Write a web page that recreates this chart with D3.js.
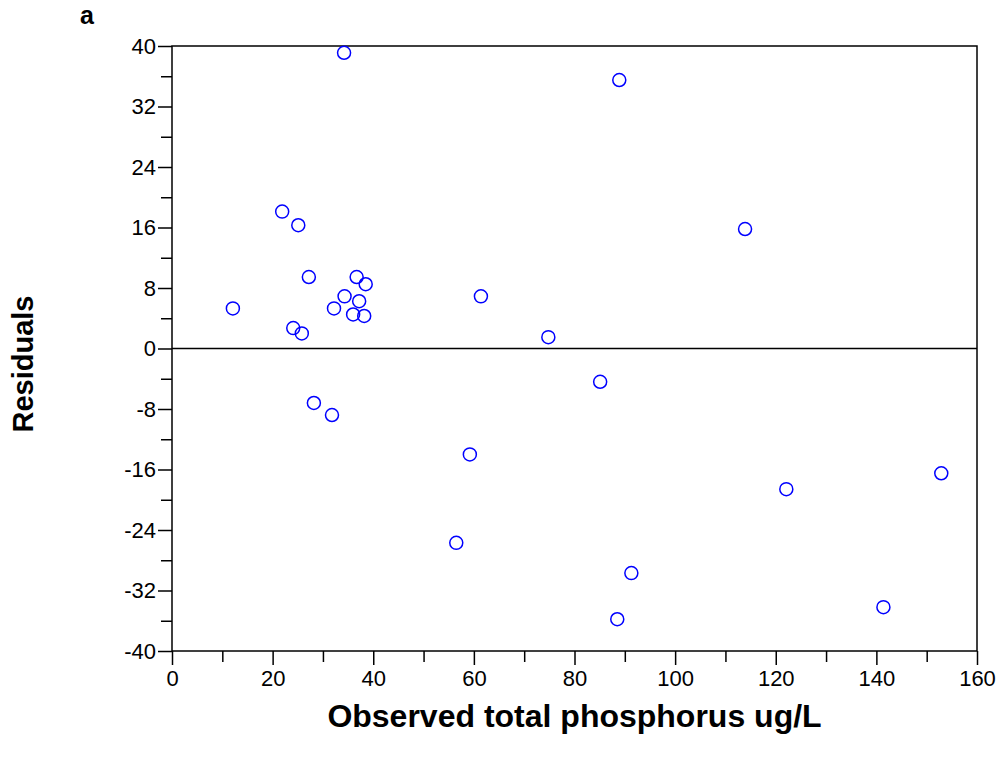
<!DOCTYPE html>
<html>
<head>
  <meta charset="utf-8">
  <script src="https://d3js.org/d3.v7.min.js"></script>
  <style>
    body { margin: 0; background: #fff; }
    svg text { font-family: "Liberation Sans", Arial, sans-serif; fill: #000; }
  </style>
</head>
<body>
<script>
  // observed total phosphorus (ug/L) and residuals
  var observed = [34.2, 88.9, 21.9, 25.1, 113.9, 27.2, 36.7, 38.5, 34.3, 61.4,
                  37.2, 12.1, 32.2, 36.0, 38.2, 24.1, 25.8, 74.8, 85.1, 28.2,
                  31.8, 59.2, 152.9, 122.1, 56.5, 91.3, 141.4, 88.5];
  var residuals = [39.1, 35.5, 18.1, 16.3, 15.8, 9.45, 9.45, 8.5, 6.9, 6.9,
                   6.25, 5.3, 5.3, 4.5, 4.3, 2.7, 2.0, 1.5, -4.4, -7.2,
                   -8.8, -14.0, -16.5, -18.6, -25.7, -29.7, -34.2, -35.8];
  var xTicks = [0, 20, 40, 60, 80, 100, 120, 140, 160];
  var yTicks = [-40, -32, -24, -16, -8, 0, 8, 16, 24, 32, 40];

  var width = 1005, height = 761;
  var plotLeft = 172, plotRight = 977, plotTop = 46, plotBottom = 651;

  var svg = d3.select("body").append("svg")
      .attr("width", width)
      .attr("height", height);

  var x = d3.scaleLinear().domain([0, 160]).range([plotLeft, plotRight]);
  var y = d3.scaleLinear().domain([-40, 40]).range([plotBottom, plotTop]);

  // minor ticks halfway between the labelled ones
  var xMinor = d3.range(10, 160, 20);
  var yMinor = d3.range(-36, 40, 8);

  // plain hyphen for negatives, like the original
  var fmt = function(d) { return String(d); };

  svg.append("g")
      .attr("transform", "translate(0," + plotBottom + ")")
      .call(d3.axisBottom(x).tickValues(xTicks).tickSize(14).tickPadding(5)
            .tickFormat(fmt));
  svg.append("g")
      .attr("transform", "translate(0," + plotBottom + ")")
      .call(d3.axisBottom(x).tickValues(xMinor).tickSize(11).tickFormat(""));

  svg.append("g")
      .attr("transform", "translate(" + plotLeft + ",0)")
      .call(d3.axisLeft(y).tickValues(yTicks).tickSize(14).tickPadding(2)
            .tickFormat(fmt));
  svg.append("g")
      .attr("transform", "translate(" + plotLeft + ",0)")
      .call(d3.axisLeft(y).tickValues(yMinor).tickSize(11).tickFormat(""));

  svg.selectAll(".domain").remove();
  svg.selectAll(".tick line").attr("stroke", "#000").attr("stroke-width", 1.5);
  svg.selectAll(".tick text").style("font-size", "22px");

  // frame
  svg.append("rect")
      .attr("x", plotLeft).attr("y", plotTop)
      .attr("width", plotRight - plotLeft).attr("height", plotBottom - plotTop)
      .attr("fill", "none").attr("stroke", "#000").attr("stroke-width", 1.5);

  // zero line
  svg.append("line")
      .attr("x1", plotLeft).attr("x2", plotRight)
      .attr("y1", y(0)).attr("y2", y(0))
      .attr("stroke", "#000").attr("stroke-width", 1.5);

  // points
  svg.selectAll("circle.pt")
      .data(observed)
      .enter().append("circle")
      .attr("class", "pt")
      .attr("cx", function(d) { return x(d); })
      .attr("cy", function(d, i) { return y(residuals[i]); })
      .attr("r", 6.5)
      .attr("fill", "none")
      .attr("stroke", "#0000ff")
      .attr("stroke-width", 1.5);

  // titles
  svg.append("text")
      .attr("x", (plotLeft + plotRight) / 2)
      .attr("y", 727)
      .attr("text-anchor", "middle")
      .style("font-size", "32px")
      .style("font-weight", "bold")
      .text("Observed total phosphorus ug/L");

  svg.append("text")
      .attr("transform", "translate(33,364) rotate(-90)")
      .attr("text-anchor", "middle")
      .style("font-size", "29px")
      .style("font-weight", "bold")
      .text("Residuals");

  svg.append("text")
      .attr("x", 80)
      .attr("y", 24)
      .style("font-size", "25px")
      .style("font-weight", "bold")
      .text("a");
</script>
</body>
</html>
